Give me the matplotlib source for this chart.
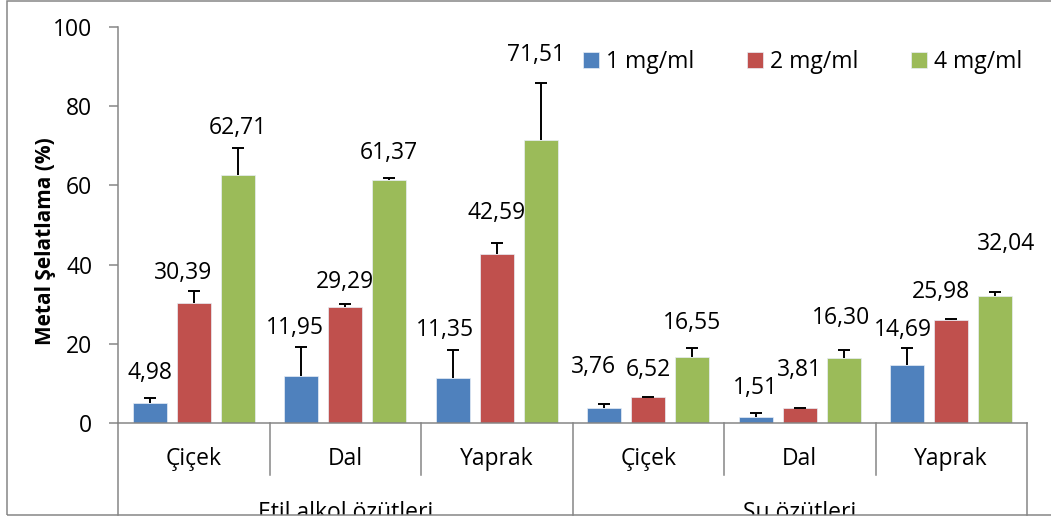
import matplotlib
matplotlib.use("Agg")
import matplotlib.pyplot as plt
from matplotlib.patches import Rectangle
from matplotlib.transforms import Bbox, TransformedBbox

plt.rcParams["font.family"] = ["Open Sans", "DejaVu Sans"]

# data
groups = ["Etil alkol özütleri", "Su özütleri"]
parts = ["Çiçek", "Dal", "Yaprak", "Çiçek", "Dal", "Yaprak"]
series = ["1 mg/ml", "2 mg/ml", "4 mg/ml"]

vals_1 = [4.98, 11.95, 11.35, 3.76, 1.51, 14.69]
vals_2 = [30.39, 29.29, 42.59, 6.52, 3.81, 25.98]
vals_4 = [62.71, 61.37, 71.51, 16.55, 16.30, 32.04]

err_1 = [1.3, 7.2, 7.1, 1.0, 0.9, 4.3]
err_2 = [2.9, 0.8, 2.9, 0.1, 0.1, 0.3]
err_4 = [6.7, 0.6, 14.4, 2.5, 2.2, 1.0]

# label placement (pixels, relative to bar top)
lab_dy = [[30, 48, 48, 41, 29, 35],
          [30, 25, 41, 27, 38, 28],
          [47, 27, 85, 34, 40, 52]]
lab_dx = [[0, -6, -8, -11, 0, -4],
          [-11, 0, 0, 0, 0, -10],
          [0, 0, -5, 0, -3, 11]]

colors = ["#4F81BD", "#C0504D", "#9BBB59"]
axis_col = "#868686"
W, H = 1051, 522
FS = 16.5

fig = plt.figure(figsize=(W / 100, H / 100), dpi=100)
ax = fig.add_axes([118 / W, 1 - 423 / H, (1027 - 118) / W, (423 - 27) / H])

x = list(range(len(parts)))
step = 0.29
width = 0.224
all_vals = [vals_1, vals_2, vals_4]
all_err = [err_1, err_2, err_4]

for i, (v, e) in enumerate(zip(all_vals, all_err)):
    xs = [xi + (i - 1) * step for xi in x]
    tops = [a + b for a, b in zip(v, e)]
    ax.bar(xs, v, width, color=colors[i], edgecolor="#e8eef6", linewidth=0.5,
           label=series[i], zorder=2)
    # upper error only, cap at the top end
    ax.vlines(xs, v, tops, color="black", lw=1.4, zorder=3)
    ax.plot(xs, tops, ls="none", marker="_", ms=9, mew=1.4, color="black", zorder=3)
    for j, (xx, vv) in enumerate(zip(xs, v)):
        ax.annotate(f"{vv:.2f}".replace(".", ","), xy=(xx, vv),
                    xytext=(lab_dx[i][j], lab_dy[i][j]), textcoords="offset pixels",
                    ha="center", va="center", fontsize=FS, zorder=4)

ax.set_xlim(-0.5, 5.5)
ax.set_ylim(0, 100)
ax.set_yticks([0, 20, 40, 60, 80, 100])
ax.tick_params(axis="y", direction="out", length=6.5, width=1.1, color=axis_col,
               labelsize=FS, pad=12)
ax.tick_params(axis="x", bottom=False, labelbottom=False)
for side in ["top", "right"]:
    ax.spines[side].set_visible(False)
for side in ["left", "bottom"]:
    ax.spines[side].set_color(axis_col)
    ax.spines[side].set_linewidth(1.1)

ax.set_ylabel("Metal Şelatlama (%)", fontsize=15, fontweight="bold")
ax.yaxis.set_label_coords(-(118 - 56) / (1027 - 118), 0.46)

# multi-level category axis
tr = ax.get_xaxis_transform()
px = 1 / (423 - 27)
for k in range(len(parts) + 1):
    xb = k - 0.5
    depth = 515 - 423 if k in (0, 3, 6) else 475 - 423
    ax.plot([xb, xb], [0, -depth * px], transform=tr, color=axis_col, lw=1.1,
            clip_on=False, zorder=1)
for k, p in enumerate(parts):
    ax.text(k, -(459 - 423) * px, p, transform=tr, ha="center", va="center",
            fontsize=FS)

# group labels sit on the chart border and are cut by it, as in the original
clip = TransformedBbox(Bbox([[0, (H - 515) / H], [1, 1]]), fig.transFigure)
for g, name in enumerate(groups):
    t = ax.text(1 + 3 * g, -(501 - 423) * px, name, transform=tr, ha="center",
                va="top", fontsize=FS)
    t.set_clip_box(clip)
    t.set_clip_on(True)

leg = ax.legend(ncol=3, loc="center left", bbox_to_anchor=((583 - 118) / (1027 - 118), 1 - (62 - 27) * px),
                frameon=False, fontsize=FS, handlelength=0.7, handleheight=0.7,
                handletextpad=0.3, columnspacing=2.3, borderaxespad=0, borderpad=0)

fig.add_artist(Rectangle((7 / W, (H - 515) / H), 1.1, (515 - 1) / H,
                         transform=fig.transFigure, fill=False, edgecolor=axis_col,
                         linewidth=1.1, clip_on=False))

fig.savefig("out.png", dpi=100)
